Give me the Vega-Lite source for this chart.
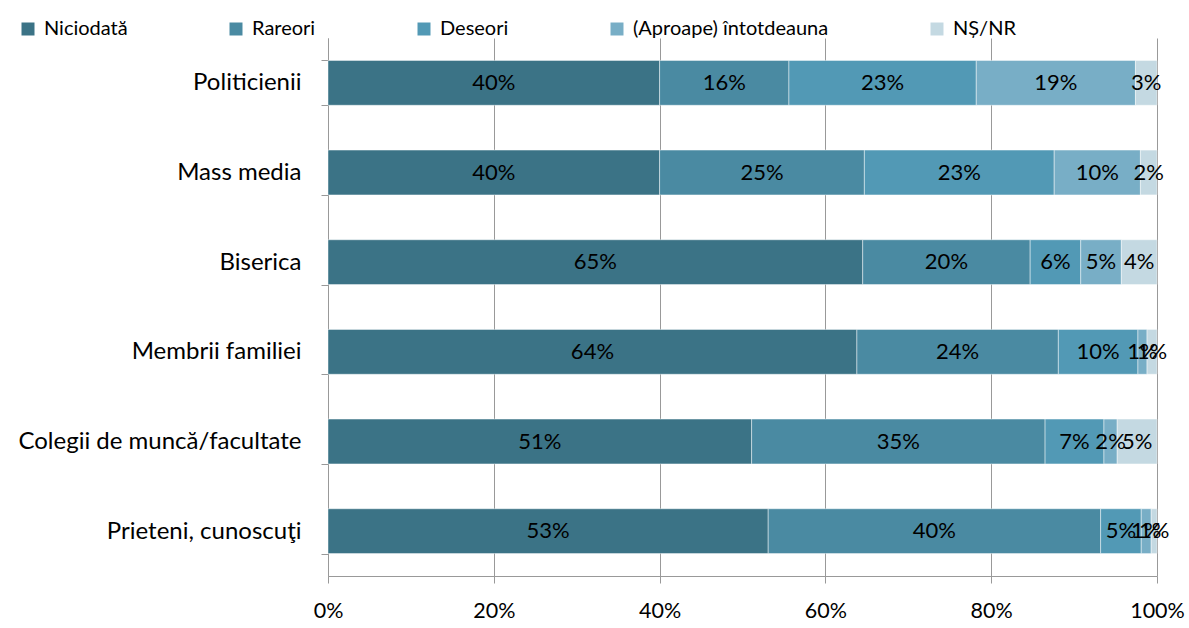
{
  "$schema": "https://vega.github.io/schema/vega-lite/v6.json",
  "autosize": {"type": "none"},
  "width": 829,
  "height": 538,
  "padding": {"left": 328, "top": 38, "right": 32, "bottom": 52},
  "background": "#ffffff",
  "config": {
    "view": {"stroke": null},
    "font": "Lato",
    "axis": {"labelFont": "Lato", "labelColor": "#000000", "labelLimit": 0},
    "legend": {"labelFont": "Lato", "labelFontSize": 20, "labelColor": "#000000", "labelLimit": 0}
  },
  "data": {
    "values": [
      {"cat": "Politicienii", "resp": "Niciodată", "k": 1, "v": 0.400},
      {"cat": "Politicienii", "resp": "Rareori", "k": 2, "v": 0.156},
      {"cat": "Politicienii", "resp": "Deseori", "k": 3, "v": 0.226},
      {"cat": "Politicienii", "resp": "(Aproape) întotdeauna", "k": 4, "v": 0.192},
      {"cat": "Politicienii", "resp": "NȘ/NR", "k": 5, "v": 0.026},
      {"cat": "Mass media", "resp": "Niciodată", "k": 1, "v": 0.400},
      {"cat": "Mass media", "resp": "Rareori", "k": 2, "v": 0.247},
      {"cat": "Mass media", "resp": "Deseori", "k": 3, "v": 0.229},
      {"cat": "Mass media", "resp": "(Aproape) întotdeauna", "k": 4, "v": 0.104},
      {"cat": "Mass media", "resp": "NȘ/NR", "k": 5, "v": 0.020},
      {"cat": "Biserica", "resp": "Niciodată", "k": 1, "v": 0.645},
      {"cat": "Biserica", "resp": "Rareori", "k": 2, "v": 0.202},
      {"cat": "Biserica", "resp": "Deseori", "k": 3, "v": 0.061},
      {"cat": "Biserica", "resp": "(Aproape) întotdeauna", "k": 4, "v": 0.049},
      {"cat": "Biserica", "resp": "NȘ/NR", "k": 5, "v": 0.043},
      {"cat": "Membrii familiei", "resp": "Niciodată", "k": 1, "v": 0.638},
      {"cat": "Membrii familiei", "resp": "Rareori", "k": 2, "v": 0.243},
      {"cat": "Membrii familiei", "resp": "Deseori", "k": 3, "v": 0.096},
      {"cat": "Membrii familiei", "resp": "(Aproape) întotdeauna", "k": 4, "v": 0.011},
      {"cat": "Membrii familiei", "resp": "NȘ/NR", "k": 5, "v": 0.012},
      {"cat": "Colegii de muncă/facultate", "resp": "Niciodată", "k": 1, "v": 0.511},
      {"cat": "Colegii de muncă/facultate", "resp": "Rareori", "k": 2, "v": 0.354},
      {"cat": "Colegii de muncă/facultate", "resp": "Deseori", "k": 3, "v": 0.071},
      {"cat": "Colegii de muncă/facultate", "resp": "(Aproape) întotdeauna", "k": 4, "v": 0.016},
      {"cat": "Colegii de muncă/facultate", "resp": "NȘ/NR", "k": 5, "v": 0.048},
      {"cat": "Prieteni, cunoscuţi", "resp": "Niciodată", "k": 1, "v": 0.531},
      {"cat": "Prieteni, cunoscuţi", "resp": "Rareori", "k": 2, "v": 0.401},
      {"cat": "Prieteni, cunoscuţi", "resp": "Deseori", "k": 3, "v": 0.049},
      {"cat": "Prieteni, cunoscuţi", "resp": "(Aproape) întotdeauna", "k": 4, "v": 0.012},
      {"cat": "Prieteni, cunoscuţi", "resp": "NȘ/NR", "k": 5, "v": 0.007}
    ]
  },
  "encoding": {
    "y": {
      "field": "cat",
      "type": "nominal",
      "sort": ["Politicienii", "Mass media", "Biserica", "Membrii familiei", "Colegii de muncă/facultate", "Prieteni, cunoscuţi"],
      "scale": {"paddingInner": 0.5, "paddingOuter": 0.25},
      "axis": {
        "title": null,
        "labelFontSize": 24,
        "domainColor": "#999999",
        "tickColor": "#999999",
        "tickBand": "extent",
        "tickSize": 7,
        "labelPadding": 20,
        "grid": false
      }
    },
    "x": {
      "field": "v",
      "type": "quantitative",
      "stack": "zero",
      "scale": {"domain": [0, 1], "nice": false},
      "axis": {
        "title": null,
        "labelFontSize": 21.5,
        "format": ".0%",
        "values": [0, 0.2, 0.4, 0.6, 0.8, 1],
        "grid": true,
        "gridColor": "#999999",
        "gridWidth": 1,
        "domainColor": "#999999",
        "tickColor": "#999999",
        "tickSize": 7,
        "labelPadding": 17,
        "labelFlush": false
      }
    },
    "order": {"field": "k", "type": "quantitative"}
  },
  "layer": [
    {
      "mark": {"type": "bar", "stroke": "#ffffff", "strokeWidth": 1, "strokeOpacity": 0.45},
      "encoding": {
        "color": {
          "field": "resp",
          "type": "nominal",
          "sort": ["Niciodată", "Rareori", "Deseori", "(Aproape) întotdeauna", "NȘ/NR"],
          "scale": {
            "domain": ["Niciodată", "Rareori", "Deseori", "(Aproape) întotdeauna", "NȘ/NR"],
            "range": ["#3b7386", "#4a8aa2", "#5299b5", "#78aec6", "#c4d9e2"]
          },
          "legend": {
            "title": null,
            "orient": "none",
            "direction": "horizontal",
            "legendX": -310,
            "legendY": -19,
            "symbolType": "square",
            "symbolSize": 169,
            "symbolStrokeWidth": 0,
            "labelOffset": 6,
            "columnPadding": 98
          }
        }
      }
    },
    {
      "mark": {"type": "text", "fontSize": 22, "font": "Lato", "color": "#000000"},
      "encoding": {
        "x": {"field": "v", "type": "quantitative", "stack": "zero", "bandPosition": 0.5},
        "text": {"field": "v", "type": "quantitative", "format": ".0%"}
      }
    }
  ]
}
